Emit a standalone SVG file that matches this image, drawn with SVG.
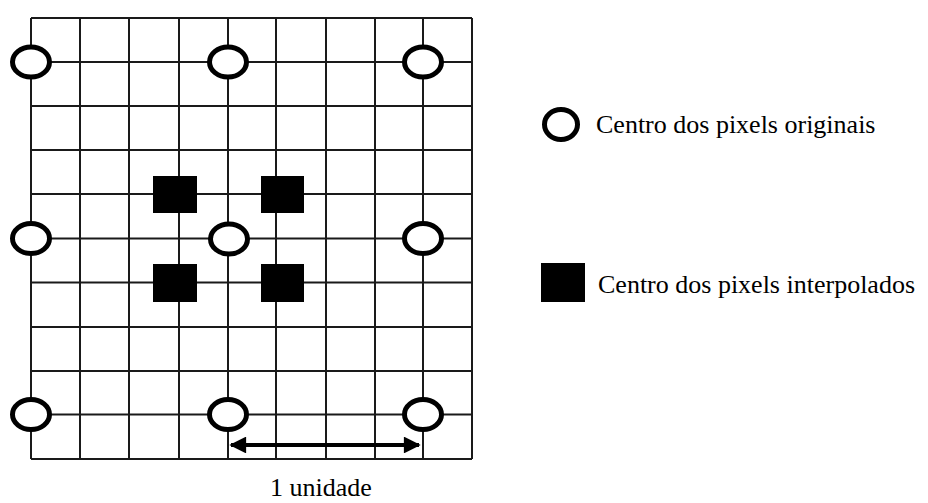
<svg xmlns="http://www.w3.org/2000/svg" width="928" height="503" viewBox="0 0 928 503">
<style>
.grid line{stroke:#1a1a1a;stroke-width:2}
.orig{fill:#fff;stroke:#000;stroke-width:5}
.interp{fill:#000}
.lbl{font-family:"Liberation Serif",serif;font-size:26px;fill:#000}
</style>
<defs>
<marker id="ah" viewBox="0 0 10 10" refX="9" refY="5" markerWidth="4.6" markerHeight="4.2" orient="auto-start-reverse" markerUnits="strokeWidth">
<path d="M0,0 L10,5 L0,10 z" fill="#000"/>
</marker>
</defs>
<rect width="928" height="503" fill="#fff"/>
<g class="grid" id="grid">
<line x1="31" y1="18" x2="31" y2="459"/>
<line x1="80" y1="18" x2="80" y2="459"/>
<line x1="129" y1="18" x2="129" y2="459"/>
<line x1="179" y1="18" x2="179" y2="459"/>
<line x1="228" y1="18" x2="228" y2="459"/>
<line x1="276" y1="18" x2="276" y2="459"/>
<line x1="326" y1="18" x2="326" y2="459"/>
<line x1="375" y1="18" x2="375" y2="459"/>
<line x1="423" y1="18" x2="423" y2="459"/>
<line x1="472" y1="18" x2="472" y2="459"/>
<line x1="31" y1="18" x2="472" y2="18"/>
<line x1="31" y1="62" x2="472" y2="62"/>
<line x1="31" y1="106" x2="472" y2="106"/>
<line x1="31" y1="150" x2="472" y2="150"/>
<line x1="31" y1="194" x2="472" y2="194"/>
<line x1="31" y1="238.5" x2="472" y2="238.5"/>
<line x1="31" y1="282.5" x2="472" y2="282.5"/>
<line x1="31" y1="327" x2="472" y2="327"/>
<line x1="31" y1="371" x2="472" y2="371"/>
<line x1="31" y1="414.5" x2="472" y2="414.5"/>
<line x1="31" y1="459" x2="472" y2="459"/>
</g>
<g id="connectors">
<line x1="231" y1="445" x2="419" y2="445" stroke="#000" stroke-width="4" marker-start="url(#ah)" marker-end="url(#ah)"/>
</g>
<g id="o1"><ellipse class="orig" cx="31" cy="62" rx="18.5" ry="15"/></g>
<g id="o2"><ellipse class="orig" cx="228" cy="62" rx="18.5" ry="15"/></g>
<g id="o3"><ellipse class="orig" cx="423" cy="62" rx="18.5" ry="15"/></g>
<g id="o4"><ellipse class="orig" cx="31" cy="238.5" rx="18.5" ry="15"/></g>
<g id="o5"><ellipse class="orig" cx="229" cy="239" rx="18.5" ry="15"/></g>
<g id="o6"><ellipse class="orig" cx="423" cy="238.5" rx="18.5" ry="15"/></g>
<g id="o7"><ellipse class="orig" cx="31" cy="414.5" rx="18.5" ry="15"/></g>
<g id="o8"><ellipse class="orig" cx="228" cy="414.5" rx="18.5" ry="15"/></g>
<g id="o9"><ellipse class="orig" cx="423" cy="414.5" rx="18.5" ry="15"/></g>
<g id="s1"><rect class="interp" x="153" y="176" width="44" height="37"/></g>
<g id="s2"><rect class="interp" x="261" y="176" width="43" height="37"/></g>
<g id="s3"><rect class="interp" x="153" y="264" width="44" height="38"/></g>
<g id="s4"><rect class="interp" x="261" y="264" width="43" height="38"/></g>
<g id="legend-orig">
<ellipse class="orig" cx="561" cy="124.5" rx="16.5" ry="15"/>
<text class="lbl" x="596" y="133">Centro dos pixels originais</text>
</g>
<g id="legend-interp">
<rect class="interp" x="541" y="263" width="44" height="39"/>
<text class="lbl" x="598" y="293">Centro dos pixels interpolados</text>
</g>
<g id="unit-label">
<text class="lbl" x="270" y="496">1 unidade</text>
</g>
</svg>
